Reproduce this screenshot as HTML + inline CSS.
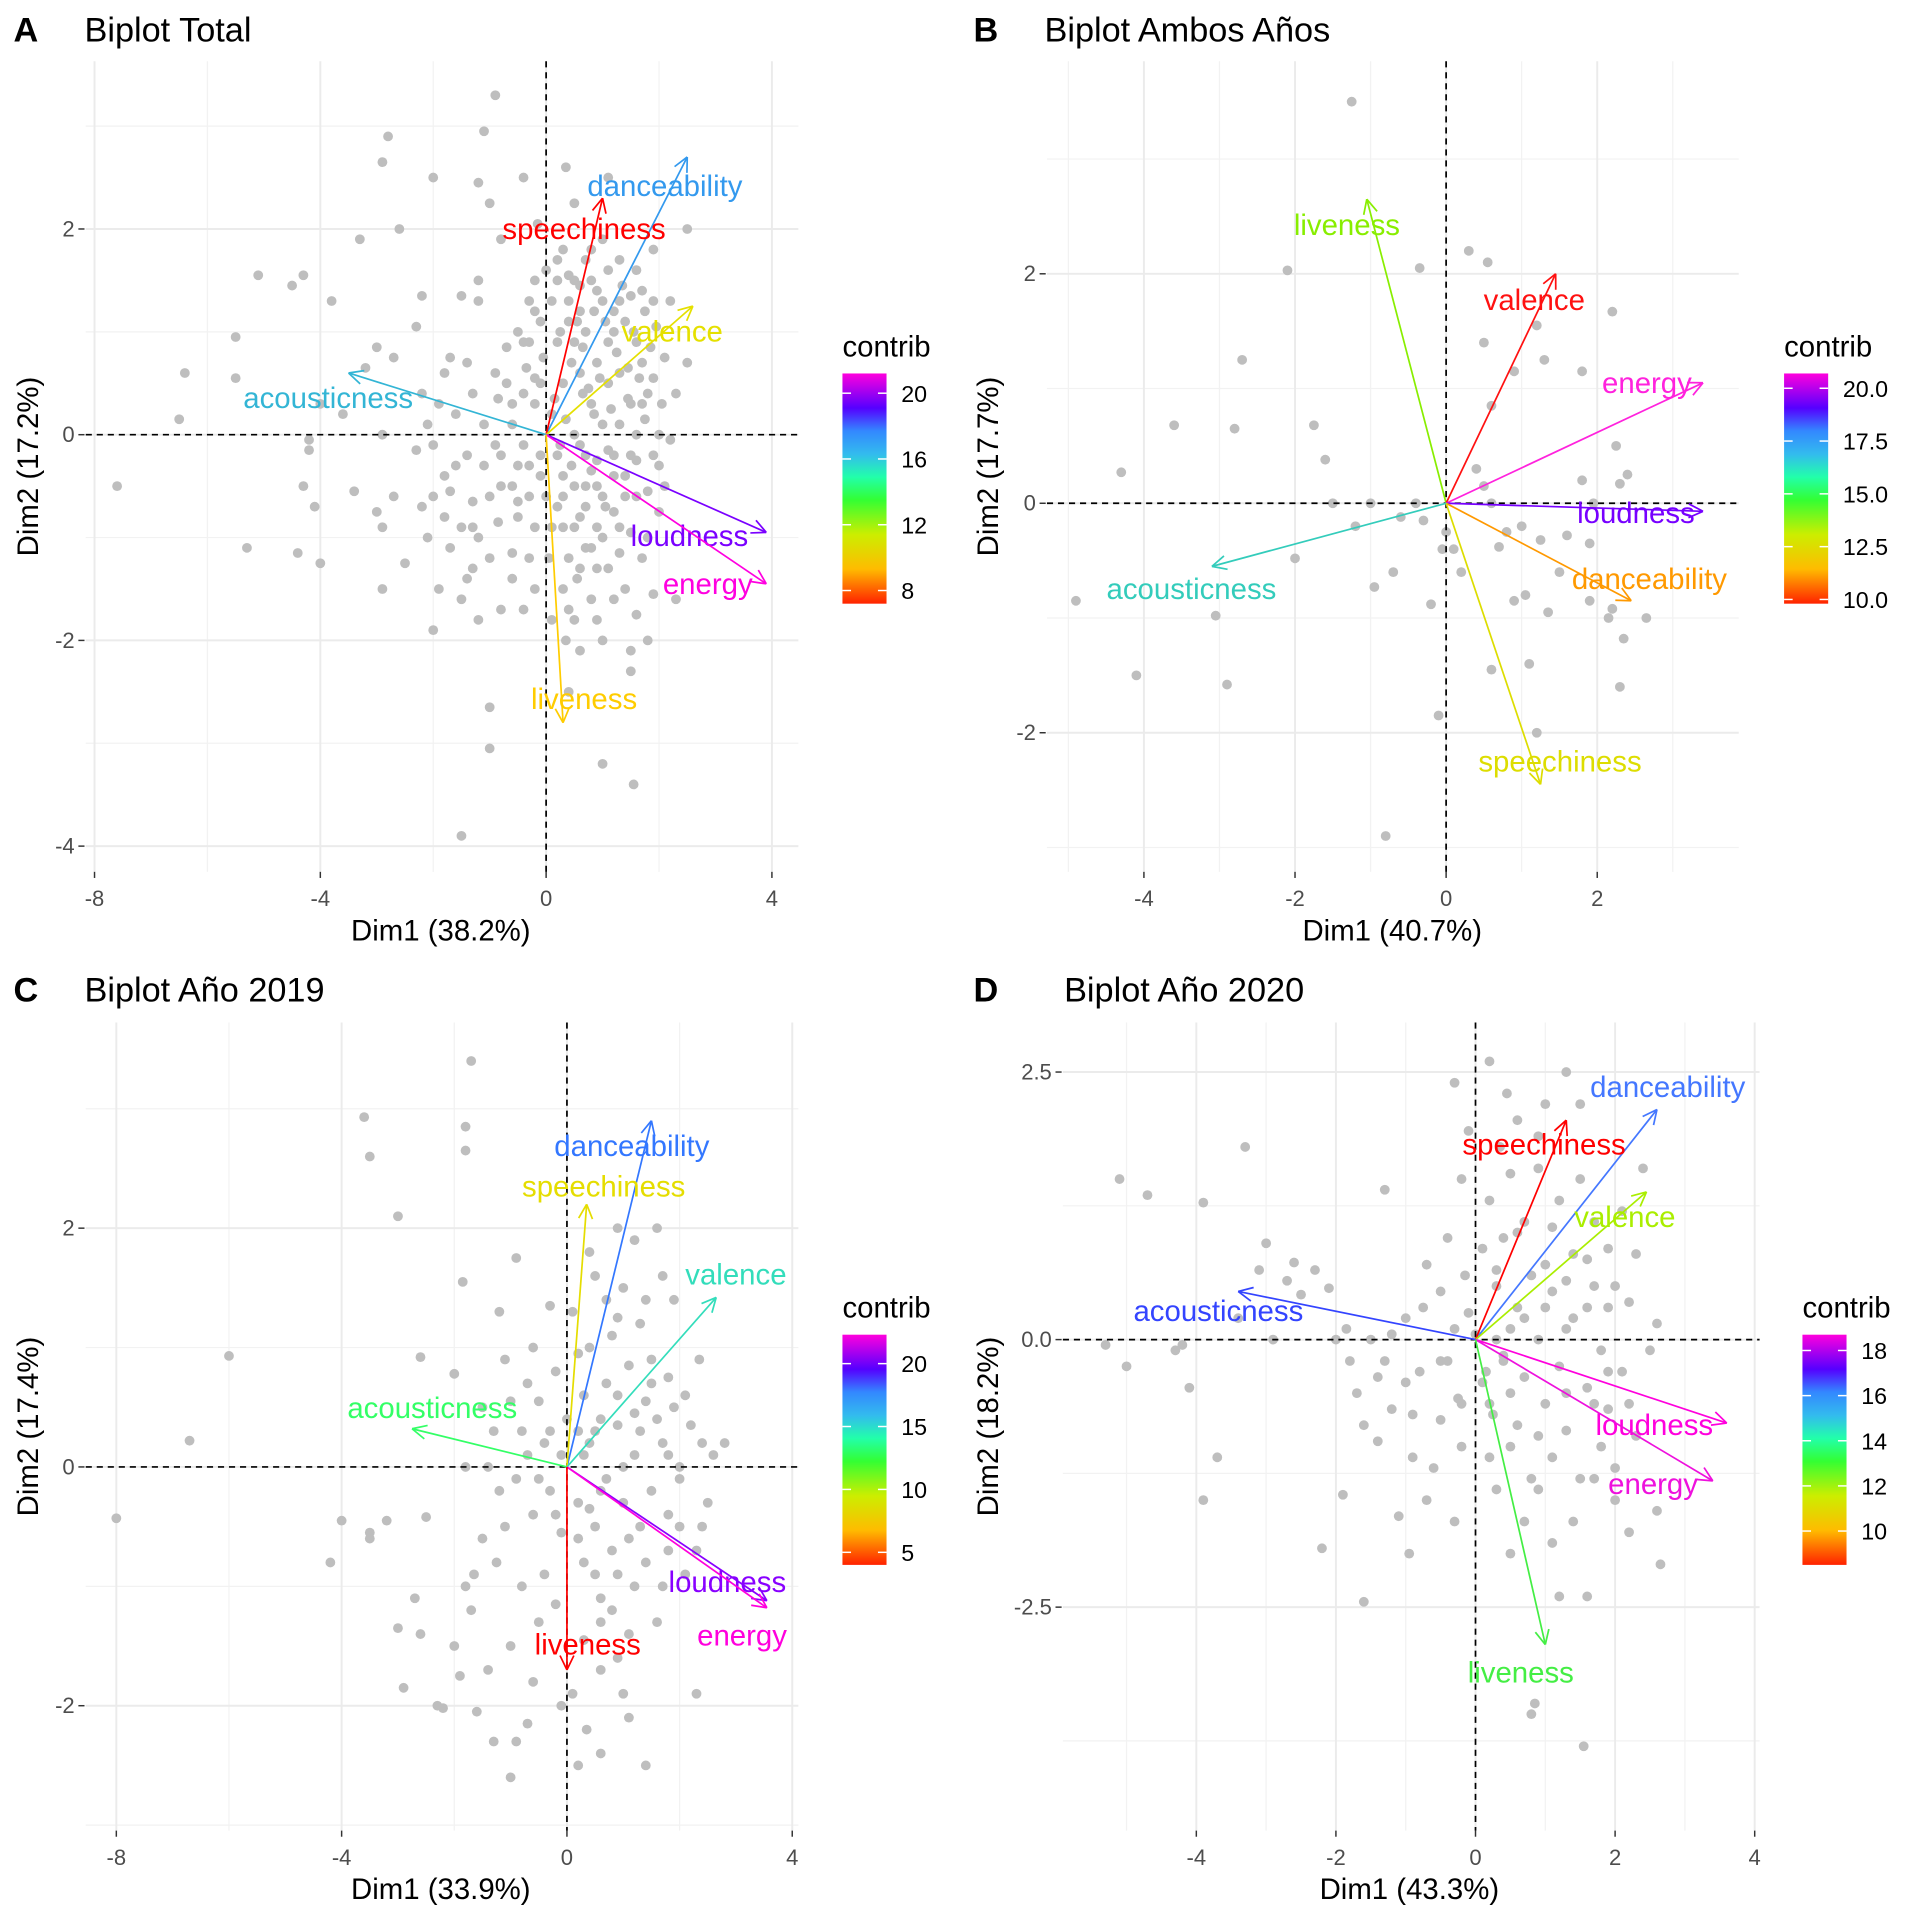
<!DOCTYPE html>
<html><head><meta charset="utf-8"><style>
html,body{margin:0;padding:0;background:#fff;}
svg{display:block;font-family:"Liberation Sans",Arial,sans-serif;}
</style></head><body>
<svg id="chart" width="1920" height="1920" viewBox="0 0 1568 1568" xmlns="http://www.w3.org/2000/svg"></svg>
<script>
const ptsA=[-7.6,-0.5,-6.4,0.6,-6.5,0.15,-5.5,0.95,-5.5,0.55,-5.3,-1.1,-5.1,1.55,-4.5,1.45,-4.3,1.55,-4.2,-0.05,-4.2,-0.15,-4.3,-0.5,-4.1,-0.7,-4.4,-1.15,-4.0,-1.25,-4.0,0.3,-3.8,1.3,-3.6,0.2,-3.4,-0.55,-3.3,1.9,-3.2,0.65,-3.0,0.85,-3.0,-0.75,-2.9,-0.9,-2.9,-1.5,-2.9,0.0,-2.7,-0.6,-2.7,0.75,-2.9,2.65,-2.8,2.9,-2.6,2.0,-2.5,-1.25,-2.3,-0.15,-2.2,0.4,-2.3,1.05,-2.2,1.35,-2.1,-1.0,-2.0,-1.9,-2.0,-0.1,-2.0,2.5,-1.9,-1.5,-1.8,-0.4,-1.8,0.6,-1.7,0.75,-1.7,-0.55,-1.6,-0.3,-1.5,1.35,-1.5,-1.6,-1.5,-3.9,-1.4,0.7,-1.4,-1.4,-1.3,-0.65,-1.3,-0.9,-1.3,-1.3,-1.2,2.45,-1.2,1.5,-1.2,1.3,-1.1,2.95,-1.1,-0.3,-1.0,2.25,-1.0,-1.2,-1.0,-2.65,-1.0,-3.05,-0.9,3.3,-0.85,-0.85,-0.85,0.35,-0.8,-0.5,-0.8,1.9,-0.7,0.85,-0.6,-1.15,-0.6,0.3,-0.5,1.0,-0.5,-0.65,-0.4,2.5,-0.4,-0.1,-0.35,0.65,-0.3,1.3,-0.3,-0.3,-0.2,0.55,-0.2,-0.9,-0.15,2.05,-0.1,1.1,-0.1,-0.4,-0.05,0.75,0.0,1.6,0.05,-1.2,0.1,0.2,0.2,1.5,0.3,-0.6,0.35,2.6,0.35,-2.0,0.4,1.3,0.4,-1.7,0.45,-0.3,0.5,2.25,0.5,0.9,0.5,-0.9,0.55,-1.4,0.6,1.2,0.6,-2.1,0.65,0.4,0.7,-0.5,0.8,1.5,0.8,-1.1,0.85,0.2,0.9,-0.25,0.9,0.7,1.0,1.3,1.0,-2.0,1.0,-3.2,1.05,-0.7,1.1,2.5,1.1,0.5,1.1,-1.3,1.2,1.0,1.2,-0.4,1.3,1.7,1.3,0.1,1.3,-0.9,1.4,-1.5,1.45,0.65,1.5,1.35,1.5,-0.2,1.5,-2.1,1.55,-3.4,1.6,0.9,1.6,-0.6,1.7,0.3,1.75,1.2,1.8,-1.0,1.8,-2.0,1.9,0.55,1.9,1.8,1.9,-1.55,2.0,-0.3,2.0,0.0,2.1,0.75,2.2,-0.05,2.2,1.3,2.3,-1.6,2.3,0.4,2.5,2.0,2.5,0.7,1.5,-2.3,0.8,-1.6,0.25,-0.1,-0.5,-0.8,0.2,0.9,0.3,0.5,0.5,0.0,0.7,1.0,0.9,1.4,1.1,0.9,1.3,0.6,1.5,0.3,1.7,0.7,0.6,0.6,0.8,0.3,1.0,0.1,1.2,1.2,0.4,1.1,0.7,-0.2,1.4,1.1,1.6,0.0,1.8,0.4,0.9,-0.5,1.2,-0.2,0.3,-0.4,0.6,-0.8,1.4,-0.4,1.0,-1.0,0.2,-0.7,0.5,1.5,0.7,1.7,1.0,1.9,0.3,1.8,1.9,1.3,-0.2,1.5,-0.4,0.9,-0.6,0.1,-0.9,-0.1,-0.2,-1.5,0.1,-1.8,0.4,-2.5,0.6,-1.3,0.9,-0.9,
0.15,0.35,0.25,1.0,0.35,0.15,0.45,0.7,0.55,1.1,0.65,0.85,0.75,0.45,0.85,1.2,0.95,0.55,1.05,1.1,1.15,0.25,1.25,0.8,1.35,1.45,1.45,0.35,1.55,1.0,1.65,0.55,1.75,0.15,1.85,0.85,1.95,1.05,2.05,0.3,0.2,-0.2,0.3,-0.9,0.4,-1.2,0.5,-0.5,0.6,-0.1,0.7,-0.7,0.8,-0.35,0.9,-1.3,1.0,-0.6,1.1,-0.15,1.2,-0.75,1.3,-1.15,1.4,-0.6,1.5,-0.95,1.6,-0.25,1.7,-1.2,1.8,-0.55,1.9,-0.2,2.0,-0.75,2.1,-0.5,-0.1,-0.2,-0.2,0.3,-0.3,-0.6,-0.4,0.4,-0.5,-0.3,-0.6,-0.5,-0.7,0.5,-0.8,-0.2,-0.9,0.6,-1.0,-0.6,-1.1,0.1,-1.2,-1.0,-1.3,0.4,-1.4,-0.2,-1.5,-0.9,-1.6,0.2,-1.7,-1.1,-1.8,-0.8,-1.9,0.3,-2.0,-0.6,-2.1,0.1,-2.2,-0.7,-0.3,0.9,-0.2,1.2,-0.1,0.5,0.1,1.3,0.2,1.7,0.4,1.55,0.6,1.45,0.8,1.8,1.1,1.6,1.3,1.3,1.6,1.6,1.7,1.4,0.3,-1.5,0.5,-1.8,0.7,-1.1,0.9,-1.8,1.2,-1.6,1.6,-1.75,-0.6,-1.4,-0.4,-1.7,-0.8,-1.7,-1.2,-1.8,-0.3,-1.2,0.1,-0.9,0.0,-0.6];
const ptsB=[-4.9,-0.85,-4.3,0.27,-4.1,-1.5,-3.6,0.68,-3.05,-0.98,-2.8,0.65,-2.9,-1.58,-2.7,1.25,-2.0,-0.48,-2.1,2.03,-1.75,0.68,-1.6,0.38,-1.5,0.0,-1.25,3.5,-1.2,-0.2,-1.0,0.0,-0.95,-0.73,-0.8,-2.9,-0.7,-0.6,-0.6,-0.12,-0.4,0.0,-0.35,2.05,-0.3,-0.15,-0.2,-0.88,-0.1,-1.85,-0.05,-0.4,0.0,-0.25,0.1,-0.4,0.3,2.2,0.4,0.3,0.5,1.4,0.5,0.15,0.55,2.1,0.6,0.85,0.6,0.0,0.7,-0.38,0.6,-1.45,0.8,-0.25,0.9,-0.85,0.9,1.15,1.05,-0.8,1.1,-1.4,1.2,1.55,1.25,-0.32,1.2,-2.0,1.3,1.25,1.35,-0.95,1.5,-0.6,1.6,-0.28,1.8,0.2,1.8,1.15,1.9,-0.35,1.9,-0.85,2.15,-1.0,2.2,-0.92,2.2,1.67,2.3,0.17,2.3,-1.6,2.35,-1.18,2.25,0.5,2.4,0.25,2.65,-1.0,1.95,0.0,1.0,-0.2,0.2,-0.6];
const ptsC=[-8.0,-0.43,-6.7,0.22,-6.0,0.93,-4.2,-0.8,-4.0,-0.45,-3.6,2.93,-3.5,2.6,-3.5,-0.55,-3.5,-0.6,-3.2,-0.45,-3.0,2.1,-3.0,-1.35,-2.9,-1.85,-2.7,-1.1,-2.6,-1.4,-2.6,0.92,-2.5,-0.42,-2.3,-2.0,-2.2,-2.02,-2.0,0.78,-2.0,-1.5,-1.9,-1.75,-1.8,-1.0,-1.8,0.0,-1.85,1.55,-1.8,2.85,-1.8,2.65,-1.7,3.4,-1.7,-1.2,-1.65,-0.9,-1.6,-2.05,-1.5,0.5,-1.5,-0.6,-1.4,-1.7,-1.3,0.3,-1.2,-0.2,-1.3,-2.3,-1.25,-0.8,-1.2,1.3,-1.0,-1.5,-1.0,0.55,-1.0,-2.6,-0.9,-0.1,-0.9,1.75,-0.8,-1.0,-0.7,-2.15,-0.7,0.1,-0.6,1.0,-0.6,-0.4,-0.5,-1.3,-0.5,0.55,-0.4,-0.9,-0.4,0.2,-0.3,1.35,-0.3,-0.2,-0.2,-1.15,-0.2,0.8,-0.1,-0.55,-0.1,-2.0,0.0,0.4,0.1,-1.9,0.1,1.3,0.2,-0.3,0.2,0.95,0.3,-0.8,0.3,-1.45,0.35,-2.2,0.4,0.2,0.5,1.6,0.5,-0.5,0.6,-2.4,0.6,-1.1,0.7,0.7,0.7,-0.1,0.8,1.1,0.8,-0.7,0.9,-1.6,0.9,0.35,1.0,1.5,1.0,-0.3,1.1,-2.1,1.1,0.85,1.2,-1.0,1.2,0.1,1.3,1.2,1.3,-0.5,1.4,-2.5,1.4,0.55,1.5,-0.2,1.5,0.9,1.6,-1.3,1.7,0.2,1.7,1.6,1.8,-0.7,1.9,0.5,2.0,-0.1,2.1,-0.9,2.2,0.35,2.3,-1.9,2.35,0.9,2.5,-0.3,2.6,0.1,2.0,0.0,1.0,0.0,0.5,0.3,0.3,0.6,0.6,-0.2,0.9,-0.9,1.1,-0.6,1.3,0.3,1.6,0.4,1.8,0.1,0.4,-0.35,0.2,0.3,-0.1,0.1,-0.3,0.3,0.7,1.4,1.2,1.9,1.6,2.0,1.9,1.4,0.9,2.0,0.4,1.8,2.4,-0.5,2.8,0.2,1.8,-0.4,0.6,-1.3,
0.3,0.1,0.6,0.4,0.9,0.6,1.2,0.45,1.5,0.7,1.8,0.75,2.1,0.6,2.4,0.2,0.5,-0.9,0.8,-1.2,1.1,-1.4,1.4,-0.8,1.7,-1.0,2.0,-0.5,2.3,-0.7,0.2,-0.6,-0.2,-0.4,-0.5,-0.1,-0.8,0.3,-1.1,-0.5,-1.4,0.0,0.4,1.0,0.9,1.25,1.4,1.4,0.6,-1.7,1.0,-1.9,0.2,-2.5,-0.6,-1.8,-0.9,-2.3,-1.1,0.9,-0.7,0.7];
const ptsD=[-5.3,-0.05,-5.1,1.5,-5.0,-0.25,-4.7,1.35,-4.3,-0.1,-4.2,-0.05,-4.1,-0.45,-3.9,1.28,-3.9,-1.5,-3.7,-1.1,-3.3,1.8,-3.4,0.2,-3.1,0.65,-3.0,0.9,-2.9,0.0,-2.7,0.55,-2.6,0.72,-2.5,0.42,-2.3,0.65,-2.2,-1.95,-2.1,0.48,-2.0,0.0,-1.9,-1.45,-1.85,0.1,-1.8,-0.2,-1.7,-0.5,-1.6,-0.8,-1.6,-2.45,-1.5,0.0,-1.4,-0.35,-1.4,-0.95,-1.3,1.4,-1.2,-0.65,-1.2,0.05,-1.1,-1.65,-1.0,-0.4,-1.0,0.2,-0.95,-2.0,-0.9,-1.1,-0.8,-0.3,-0.75,0.3,-0.7,0.7,-0.6,-1.2,-0.5,0.45,-0.5,-0.75,-0.4,0.95,-0.4,-0.2,-0.3,2.4,-0.3,0.1,-0.25,-0.55,-0.2,1.5,-0.2,-1.0,-0.15,0.6,-0.1,0.25,-0.1,1.95,0.0,0.05,0.1,0.85,0.1,-0.4,0.2,2.6,0.2,1.3,0.25,-0.7,0.3,0.5,0.3,-1.4,0.35,1.8,0.4,-0.15,0.4,0.95,0.5,1.55,0.5,-2.0,0.5,-1.0,0.6,0.3,0.6,2.05,0.7,-0.35,0.7,1.1,0.8,-1.3,0.8,0.6,0.8,-3.5,0.9,1.6,0.9,0.0,1.0,-0.6,1.0,2.2,1.1,0.45,1.1,-1.9,1.2,1.3,1.2,-0.25,1.3,2.5,1.3,-0.85,1.4,0.8,1.4,0.2,1.5,-1.3,1.5,1.5,1.6,-0.45,1.6,-2.4,1.7,0.5,1.7,1.1,1.8,-0.1,1.8,-1.0,1.9,0.85,1.9,-0.65,2.0,-1.5,2.1,1.2,2.1,-0.3,2.2,0.35,2.2,-1.8,2.3,-0.9,2.3,0.8,2.4,1.6,2.5,-0.1,2.6,0.15,2.6,-1.6,2.65,-2.1,0.85,-3.4,1.55,-3.8,1.2,-2.4,0.6,-0.8,0.3,0.0,0.5,0.1,1.0,0.3,1.3,0.55,0.15,-0.3,1.9,0.3,2.0,-1.2,1.1,-1.1,0.7,-1.7,1.7,-0.6,0.9,1.9,1.5,2.2,0.45,2.3,
0.2,-0.6,0.4,-0.2,0.7,0.2,1.0,0.7,1.3,0.1,1.6,0.3,1.9,-0.3,0.5,-0.5,0.9,-0.9,1.3,-0.5,1.7,-1.3,2.2,-0.6,0.3,0.65,0.6,1.0,1.1,1.05,1.6,0.75,2.0,0.5,-0.2,-0.6,-0.5,-0.2,-0.9,-0.7,-1.3,-0.2,-0.7,-1.5,-0.3,-1.7,0.2,-1.1,0.9,-1.4,1.4,-1.7];

const varsA=["danceability","speechiness","valence","acousticness","loudness","energy","liveness"];
const arrXA=[2.5,1.0,2.6,-3.5,3.9,3.9,0.3];
const arrYA=[2.7,2.3,1.25,0.6,-0.95,-1.45,-2.8];
const varsB=["liveness","valence","energy","loudness","danceability","speechiness","acousticness"];
const arrXB=[-1.05,1.45,3.4,3.4,2.45,1.25,-3.1];
const arrYB=[2.65,2.0,1.05,-0.07,-0.85,-2.45,-0.55];
const varsC=["danceability","speechiness","valence","acousticness","loudness","energy","liveness"];
const arrXC=[1.5,0.35,2.65,-2.75,3.55,3.55,0.0];
const arrYC=[2.9,2.2,1.42,0.32,-1.12,-1.18,-1.7];
const varsD=["danceability","speechiness","valence","acousticness","loudness","energy","liveness"];
const arrXD=[2.6,1.3,2.45,-3.4,3.6,3.4,1.0];
const arrYD=[2.15,2.05,1.38,0.45,-0.78,-1.32,-2.85];
const colorsA=["#3399ee","#ff0000","#e5e000","#33b5d5","#7a00ff","#ff00e0","#ffcc00"];
const colorsB=["#88ee00","#ff1111","#ff22dd","#7700ff","#ff9900","#dddd00","#33ccbb"];
const colorsC=["#3377ff","#e5dd00","#33ddbb","#33ff66","#8800ff","#ff00dd","#ff0000"];
const colorsD=["#4477ff","#ff0000","#aaee00","#3344ff","#ff00dd","#ee11dd","#44ee44"];
const labelPosA=[[543,152],[477,187],[549,271],[268,325],[563,438],[578,477],[477,571]];
const labelPosB=[[1100,184],[1253,245],[1345,313],[1336,419],[1347,473],[1274,622],[973,481]];
const labelPosC=[[516,936],[493,969],[601,1041],[353,1150],[594,1292],[606,1336],[480,1343]];
const labelPosD=[[1362,888],[1261,935],[1327,994],[995,1071],[1351,1164],[1350,1212],[1242,1366]];
const legTicksA=[8,12,16,20], legTicksB=[10.0,12.5,15.0,17.5,20.0], legTicksC=[5,10,15,20], legTicksD=[10,12,14,16,18];

const NS="http://www.w3.org/2000/svg";
const svg=document.getElementById('chart');
function mk(tag,attrs,parent){const e=document.createElementNS(NS,tag);for(const k in attrs)e.setAttribute(k,attrs[k]);(parent||svg).appendChild(e);return e;}
const defs=mk('defs',{});
const lg=mk('linearGradient',{id:'rainbow',x1:0,y1:1,x2:0,y2:0},defs);
[["0","#ff2200"],["0.15","#ffbb00"],["0.3","#ccee00"],["0.45","#33ff33"],["0.55","#22ffaa"],["0.65","#33bbee"],["0.75","#3388ff"],["0.85","#5500ff"],["1","#ff00dd"]].forEach(s=>mk('stop',{offset:s[0],'stop-color':s[1]},lg));

const panels=[
 {id:'a',letter:'A',title:'Biplot Total',lx:11,tx:69,ty:34,x0:446,kx:46.1,y0:355,ky:84,r:[70,50,652,712],xt:[-8,-4,0,4],xm:[-6,-2,2],yt:[-4,-2,0,2],ym:[-3,-1,1,3],ylab:v=>String(v),pts:ptsA,vars:varsA,ax:arrXA,ay:arrYA,col:colorsA,lab:labelPosA,xl:'Dim1 (38.2%)',yl:'Dim2 (17.2%)',xlx:360,ylx:22,leg:[688,305],lt:legTicksA,lmin:7.2,lmax:21.2,lfmt:v=>String(v)},
 {id:'b',letter:'B',title:'Biplot Ambos Años',lx:795,tx:853,ty:34,x0:1181,kx:61.7,y0:411,ky:93.7,r:[855,50,1420,712],xt:[-4,-2,0,2],xm:[-5,-3,-1,1,3],yt:[-2,0,2],ym:[-3,-1,1,3],ylab:v=>String(v),pts:ptsB,vars:varsB,ax:arrXB,ay:arrYB,col:colorsB,lab:labelPosB,xl:'Dim1 (40.7%)',yl:'Dim2 (17.7%)',xlx:1137,ylx:806,leg:[1457,305],lt:legTicksB,lmin:9.8,lmax:20.7,lfmt:v=>v.toFixed(1)},
 {id:'c',letter:'C',title:'Biplot Año 2019',lx:11,tx:69,ty:818,x0:463,kx:46,y0:1198,ky:97.5,r:[70,835,652,1495],xt:[-8,-4,0,4],xm:[-6,-2,2],yt:[-2,0,2],ym:[-3,-1,1,3],ylab:v=>String(v),pts:ptsC,vars:varsC,ax:arrXC,ay:arrYC,col:colorsC,lab:labelPosC,xl:'Dim1 (33.9%)',yl:'Dim2 (17.4%)',xlx:360,ylx:22,leg:[688,1090],lt:legTicksC,lmin:4,lmax:22.3,lfmt:v=>String(v)},
 {id:'d',letter:'D',title:'Biplot Año 2020',lx:795,tx:869,ty:818,x0:1205,kx:57,y0:1094,ky:87.4,r:[868,835,1437,1495],xt:[-4,-2,0,2,4],xm:[-5,-3,-1,1,3],yt:[-2.5,0,2.5],ym:[-3.75,-1.25,1.25],ylab:v=>v.toFixed(1),pts:ptsD,vars:varsD,ax:arrXD,ay:arrYD,col:colorsD,lab:labelPosD,xl:'Dim1 (43.3%)',yl:'Dim2 (18.2%)',xlx:1151,ylx:806,leg:[1472,1090],lt:legTicksD,lmin:8.5,lmax:18.7,lfmt:v=>String(v)}
];

panels.forEach(p=>{
 const g=mk('g',{});
 
 
 const X=v=>p.x0+v*p.kx, Y=v=>p.y0-v*p.ky;
 const [L,T,R,B]=p.r;
 p.xm.forEach(v=>{const l=mk('line',{x1:X(v),x2:X(v),y1:T,y2:B,stroke:'#f2f2f2','stroke-width':1},g);});
 p.ym.forEach(v=>{const l=mk('line',{x1:L,x2:R,y1:Y(v),y2:Y(v),stroke:'#f2f2f2','stroke-width':1},g);});
 p.xt.forEach(v=>{
  const l=mk('line',{x1:X(v),x2:X(v),y1:T,y2:B,stroke:'#ebebeb','stroke-width':1.6},g);
  
  
  mk('line',{x1:X(v),x2:X(v),y1:B,y2:B+5,stroke:'#333','stroke-width':1.2},g);
  const t=mk('text',{x:X(v),y:B+28,'text-anchor':'middle','font-size':18,fill:'#4d4d4d'},g);
  t.textContent=String(v);
  
  
 });
 p.yt.forEach(v=>{
  const l=mk('line',{x1:L,x2:R,y1:Y(v),y2:Y(v),stroke:'#ebebeb','stroke-width':1.6},g);
  
  
  mk('line',{x1:L-6,x2:L-1,y1:Y(v),y2:Y(v),stroke:'#333','stroke-width':1.2},g);
  const t=mk('text',{x:L-9,y:Y(v)+6,'text-anchor':'end','font-size':18,fill:'#4d4d4d'},g);
  t.textContent=p.ylab(v);
  
  
 });
 for(let i=0;i<p.pts.length;i+=2){
  const c=mk('circle',{cx:X(p.pts[i]),cy:Y(p.pts[i+1]),r:4,fill:'#bebebe'},g);
  
  
 }
 const zh=mk('line',{x1:L,x2:R,y1:Y(0),y2:Y(0),stroke:'#000','stroke-width':1.4,'stroke-dasharray':'5,4'},g);
 
 
 const zv=mk('line',{x1:X(0),x2:X(0),y1:T,y2:B,stroke:'#000','stroke-width':1.4,'stroke-dasharray':'5,4'},g);
 
 
 p.vars.forEach((nm,i)=>{
  const x1=X(p.ax[i]),y1=Y(p.ay[i]),x0=X(0),y0=Y(0),c=p.col[i];
  const a=mk('g',{},g);
  
  
  mk('line',{x1:x0,y1:y0,x2:x1,y2:y1,stroke:c,'stroke-width':1.4},a);
  const ang=Math.atan2(y1-y0,x1-x0),hl=13;
  [0.45,-0.45].forEach(d=>mk('line',{x1:x1,y1:y1,x2:x1-hl*Math.cos(ang+d),y2:y1-hl*Math.sin(ang+d),stroke:c,'stroke-width':1.4},a));
  const t=mk('text',{x:p.lab[i][0],y:p.lab[i][1]+8,'text-anchor':'middle','font-size':24,fill:c},g);
  t.textContent=nm;
  
  
 });
 const lt=mk('text',{x:p.lx,y:p.ty,'font-size':28,'font-weight':'bold',fill:'#000'},g);
 lt.textContent=p.letter;
 
 
 const tt=mk('text',{x:p.tx,y:p.ty,'font-size':28,fill:'#000'},g);
 tt.textContent=p.title;
 
 
 const xl=mk('text',{x:p.xlx,y:B+56,'text-anchor':'middle','font-size':24,fill:'#000'},g);
 xl.textContent=p.xl;
 
 
 const cy=(T+B)/2;
 const yl=mk('text',{x:p.ylx,y:cy,'text-anchor':'middle','font-size':24,fill:'#000',transform:`rotate(-90 ${p.ylx} ${cy})`},g);
 yl.setAttribute('dy','9');
 yl.textContent=p.yl;
 
 
 const [gx,gy]=p.leg, gh=188, gw=36;
 const lgT=mk('text',{x:gx,y:gy-14,'font-size':24,fill:'#000'},g);
 lgT.textContent='contrib';
 
 
 const bar=mk('rect',{x:gx,y:gy,width:gw,height:gh,fill:'url(#rainbow)'},g);
 
 
 p.lt.forEach(v=>{
  const yy=gy+gh-(v-p.lmin)/(p.lmax-p.lmin)*gh;
  mk('line',{x1:gx,x2:gx+7,y1:yy,y2:yy,stroke:'#fff','stroke-width':1.2},g);
  mk('line',{x1:gx+gw-7,x2:gx+gw,y1:yy,y2:yy,stroke:'#fff','stroke-width':1.2},g);
  const t=mk('text',{x:gx+gw+12,y:yy+7,'font-size':19,fill:'#000'},g);
  t.textContent=p.lfmt(v);
  
  
 });
});
</script>
</body></html>
